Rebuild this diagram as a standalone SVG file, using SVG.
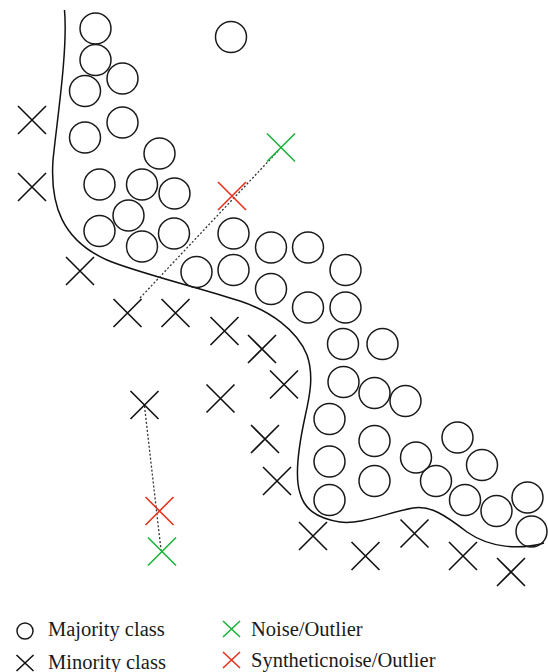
<svg xmlns="http://www.w3.org/2000/svg" width="548" height="672" viewBox="0 0 548 672">
<defs>
<style>
.c{fill:none;stroke:#1a1a1a;stroke-width:1.5}
.x{fill:none;stroke:#111;stroke-width:1.6}
.g{fill:none;stroke:#1cb33a;stroke-width:1.6}
.r{fill:none;stroke:#e5321d;stroke-width:1.6}
.d{fill:none;stroke:#333;stroke-width:1.3;stroke-dasharray:2 2}
.b{fill:none;stroke:#111;stroke-width:1.5}
.t{font-family:"Liberation Serif",serif;font-size:20.5px;fill:#1a1a1a}
</style>
<path id="X" d="M-14-14L14 14M14-14L-14 14"/>
<path id="XS" d="M-8.5-8L8.5 8M8.5-8L-8.5 8"/>
</defs>
<rect width="548" height="672" fill="#fff"/>
<g id="boundary">
<path class="b" d="M64.5 10C68 50 57 120 53 160C50 205 62 240 107 260C135 272 200 288 240 301C270 311 297 330 307 355C314 375 310 395 305 417C300 440 294 475 300 493C304 508 315 518 340 522C360 525 390 512 413 508C430 505 445 515 467 532C490 548 520 550 544 543"/>
</g>
<g id="connectors">
<path class="d" d="M140 298L278 151"/>
<path class="d" d="M144.5 406L161 550"/>
</g>
<g id="majority">
<circle class="c" cx="95.5" cy="28.5" r="15.5"/>
<circle class="c" cx="95.5" cy="60" r="15.5"/>
<circle class="c" cx="122.5" cy="78.5" r="15.5"/>
<circle class="c" cx="85" cy="91" r="15.5"/>
<circle class="c" cx="122.5" cy="122.5" r="15.5"/>
<circle class="c" cx="85" cy="137.5" r="15.5"/>
<circle class="c" cx="159.5" cy="153.5" r="15.5"/>
<circle class="c" cx="99.5" cy="184.5" r="15.5"/>
<circle class="c" cx="142" cy="184.5" r="15.5"/>
<circle class="c" cx="174.5" cy="193.5" r="15.5"/>
<circle class="c" cx="128.5" cy="215.5" r="15.5"/>
<circle class="c" cx="99.5" cy="231" r="15.5"/>
<circle class="c" cx="142" cy="246.5" r="15.5"/>
<circle class="c" cx="174" cy="233.5" r="15.5"/>
<circle class="c" cx="231" cy="37" r="15.5"/>
<circle class="c" cx="233.5" cy="233.5" r="15.5"/>
<circle class="c" cx="196.5" cy="272" r="15.5"/>
<circle class="c" cx="233.5" cy="270" r="15.5"/>
<circle class="c" cx="271" cy="247.5" r="15.5"/>
<circle class="c" cx="308" cy="247.5" r="15.5"/>
<circle class="c" cx="271" cy="289" r="15.5"/>
<circle class="c" cx="345.5" cy="270" r="15.5"/>
<circle class="c" cx="308" cy="307.5" r="15.5"/>
<circle class="c" cx="345.5" cy="307.5" r="15.5"/>
<circle class="c" cx="343" cy="344" r="15.5"/>
<circle class="c" cx="382.5" cy="344" r="15.5"/>
<circle class="c" cx="343.5" cy="382" r="15.5"/>
<circle class="c" cx="374.5" cy="393" r="15.5"/>
<circle class="c" cx="405.5" cy="401" r="15.5"/>
<circle class="c" cx="329.5" cy="419" r="15.5"/>
<circle class="c" cx="374.5" cy="441" r="15.5"/>
<circle class="c" cx="329.5" cy="461.5" r="15.5"/>
<circle class="c" cx="374.5" cy="481" r="15.5"/>
<circle class="c" cx="329.5" cy="500" r="15.5"/>
<circle class="c" cx="416" cy="457.5" r="15.5"/>
<circle class="c" cx="457.5" cy="437.5" r="15.5"/>
<circle class="c" cx="482" cy="465" r="15.5"/>
<circle class="c" cx="436" cy="481" r="15.5"/>
<circle class="c" cx="465" cy="500" r="15.5"/>
<circle class="c" cx="496.5" cy="511" r="15.5"/>
<circle class="c" cx="527.5" cy="497.5" r="15.5"/>
<circle class="c" cx="531.5" cy="531.5" r="15.5"/>
</g>
<g id="minority" class="x">
<use href="#X" x="32" y="120"/>
<use href="#X" x="32" y="187"/>
<use href="#X" x="80" y="271"/>
<use href="#X" x="127.5" y="313"/>
<use href="#X" x="175.5" y="313"/>
<use href="#X" x="224.5" y="331"/>
<use href="#X" x="262" y="349"/>
<use href="#X" x="284" y="384.5"/>
<use href="#X" x="220.5" y="398.5"/>
<use href="#X" x="144.5" y="405"/>
<use href="#X" x="265" y="439"/>
<use href="#X" x="277" y="481"/>
<use href="#X" x="313" y="536"/>
<use href="#X" x="365.5" y="556"/>
<use href="#X" x="414.5" y="533.5"/>
<use href="#X" x="463" y="556"/>
<use href="#X" x="511" y="572"/>
</g>
<g id="noise" class="g">
<use href="#X" x="281" y="147.5"/>
<use href="#X" x="162" y="551.5"/>
</g>
<g id="synthetic-noise" class="r">
<use href="#X" x="232" y="196"/>
<use href="#X" x="159.5" y="511"/>
</g>
<g id="legend">
<circle class="c" cx="25" cy="631" r="8"/>
<use href="#XS" x="25" y="663" class="x"/>
<use href="#XS" x="231.5" y="629" class="g"/>
<use href="#XS" x="231.5" y="660" class="r"/>
<text class="t" x="48" y="636">Majority class</text>
<text class="t" x="48" y="669">Minority class</text>
<text class="t" x="251" y="636">Noise/Outlier</text>
<text class="t" x="251" y="667">Syntheticnoise/Outlier</text>
</g>
</svg>
